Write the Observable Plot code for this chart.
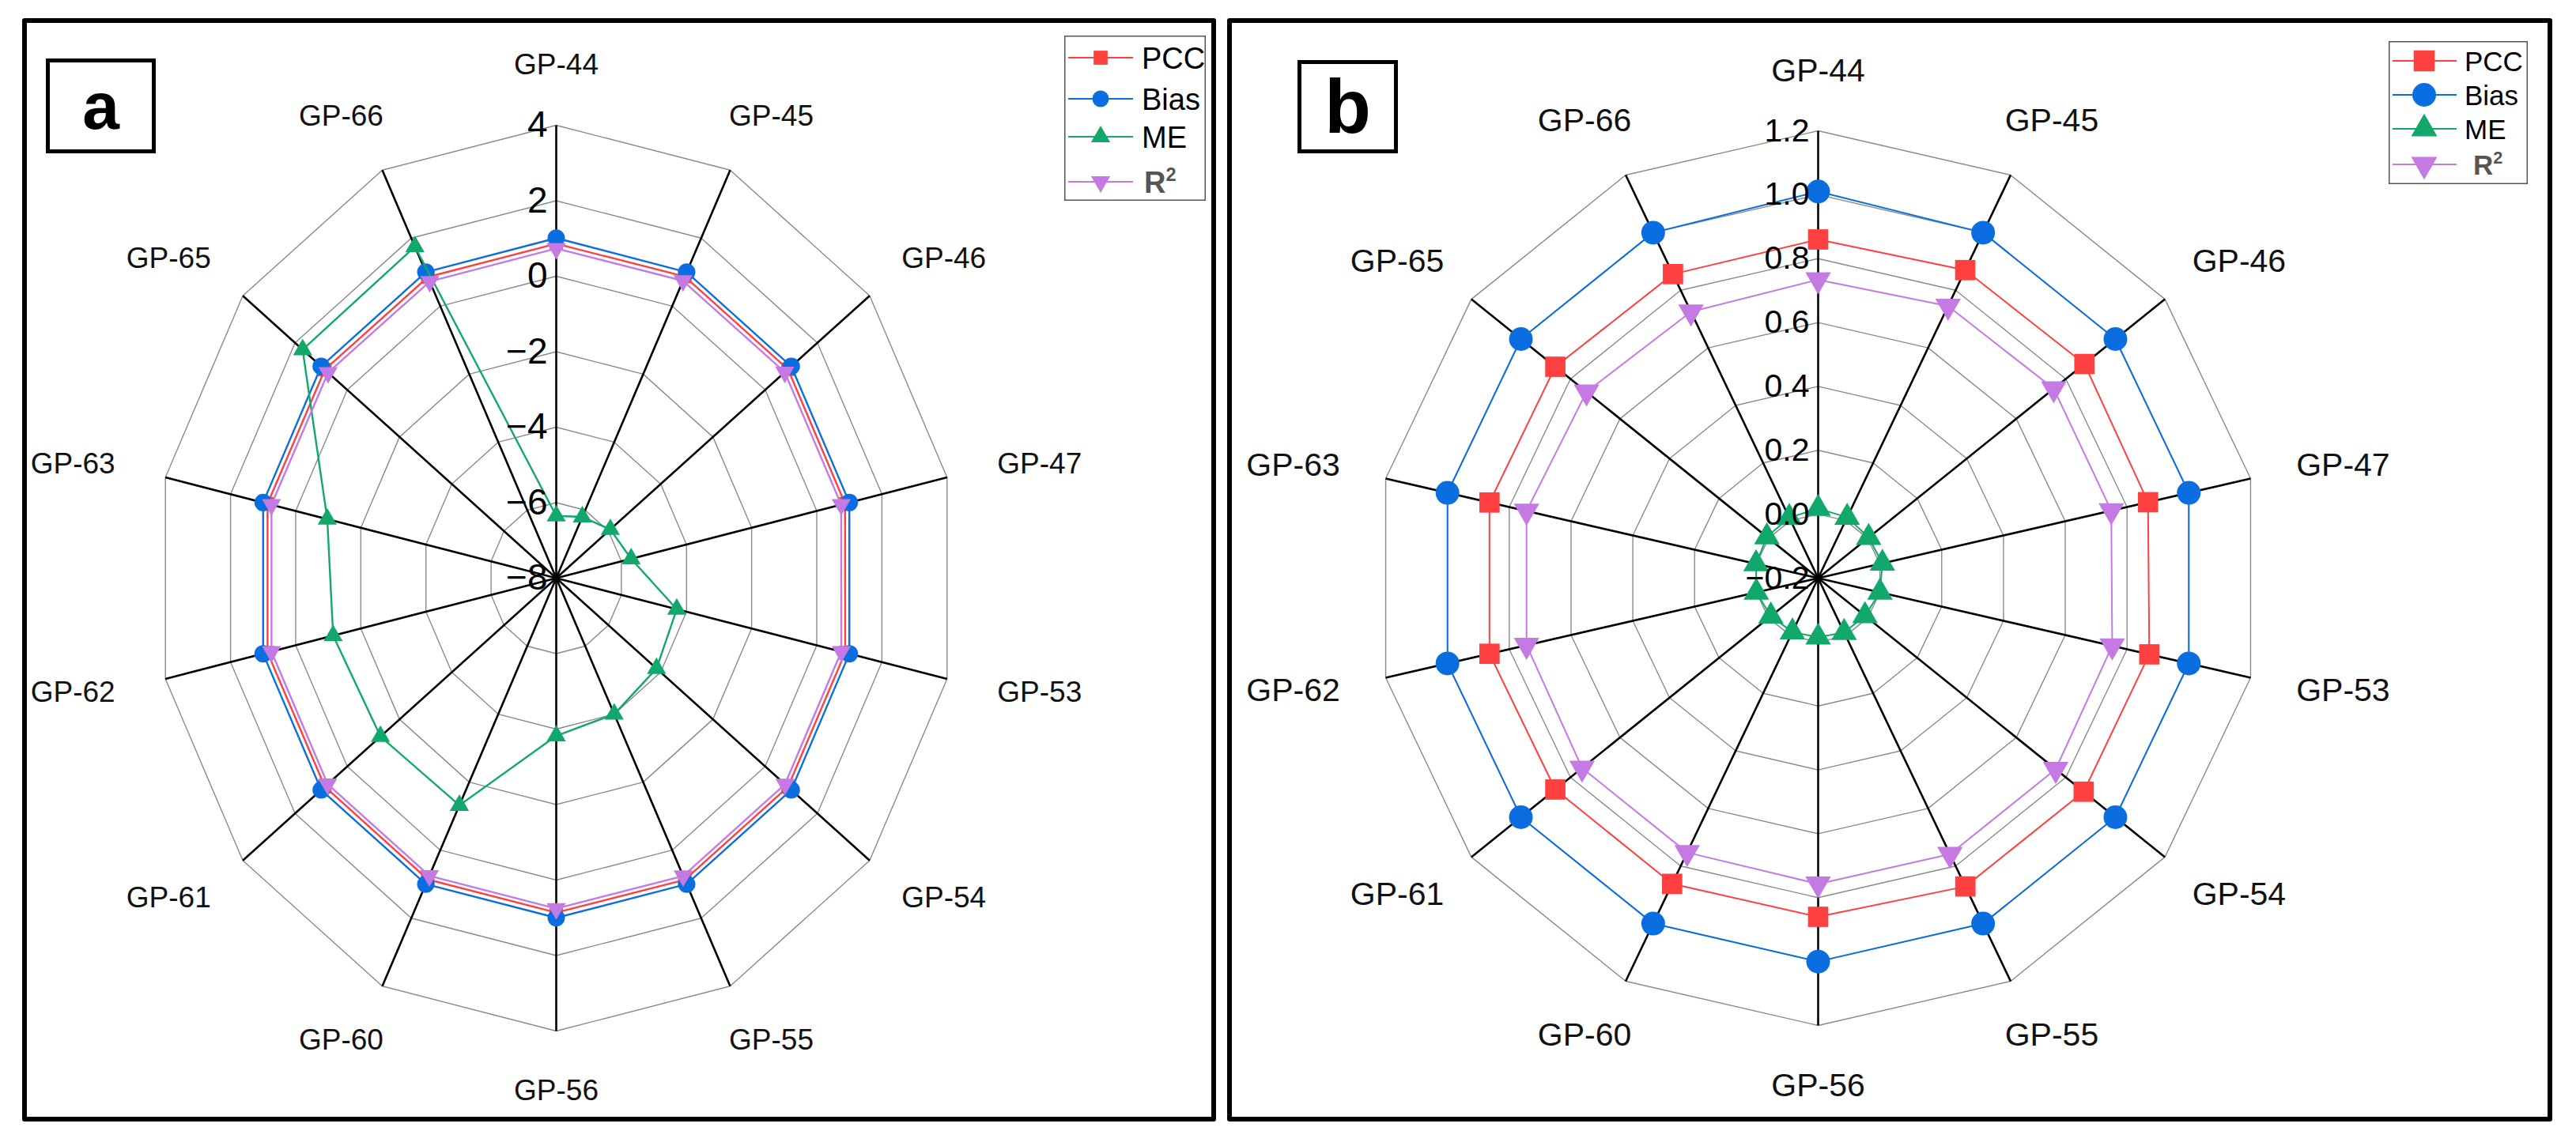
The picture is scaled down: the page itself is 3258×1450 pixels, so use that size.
<!DOCTYPE html>
<html><head><meta charset="utf-8">
<script src="https://cdn.jsdelivr.net/npm/d3@7"></script>
<script src="https://cdn.jsdelivr.net/npm/@observablehq/plot@0.6"></script>
<style>
body{margin:0;background:#fff;font-family:"Liberation Sans",Arial,sans-serif;}
#root{position:relative;width:3258px;height:1450px;overflow:hidden;background:#fff;}
.frame{position:absolute;border:6px solid #000;box-sizing:border-box;border-radius:3px;}
.tag{position:absolute;border:5px solid #000;box-sizing:border-box;font-weight:bold;display:flex;align-items:center;justify-content:center;line-height:1;color:#000;}
.plotwrap{position:absolute;left:0;top:0;}
.legend{position:absolute;}
</style></head><body><div id="root"></div>
<script>
// ---------- data ----------
const categories = ["GP-44","GP-45","GP-46","GP-47","GP-53","GP-54","GP-55","GP-56","GP-60","GP-61","GP-62","GP-63","GP-65","GP-66"];
const seriesNames = ["PCC","Bias","ME","R²"];
const pccValues  = [0.86,0.87,0.875,0.868,0.872,0.872,0.871,0.86,0.862,0.861,0.864,0.864,0.861,0.856];
const biasValues = [1.01,1.0,1.0,1.0,1.0,1.0,1.0,1.0,1.0,1.0,1.0,1.0,1.0,1.0];
const r2Values   = [0.734,0.745,0.751,0.749,0.752,0.759,0.759,0.757,0.753,0.753,0.744,0.744,0.735,0.725];
const meValuesA  = [-6.35,-6.2,-5.93,-5.7,-4.3,-4.16,-4.0,-3.82,-1.32,-1.27,-1.15,-0.97,1.71,1.75];
const meValuesB  = [0.018,0.011,0.004,0.008,0.0,-0.011,-0.011,-0.015,-0.013,-0.009,0.0,0.001,0.007,0.01];
const ticksA = [-8,-6,-4,-2,0,2,4];
const ticksB = [-0.2,0.0,0.2,0.4,0.6,0.8,1.0,1.2];

// ---------- styles ----------
const colors = {"PCC":"#ff4040","Bias":"#0a6ee0","ME":"#12a86c","R²":"#c47ae2"};
const triangleDown = {draw(ctx, size){const y=Math.sqrt(size/(3*Math.sqrt(3)));ctx.moveTo(0,2*y);ctx.lineTo(-Math.sqrt(3)*y,-y);ctx.lineTo(Math.sqrt(3)*y,-y);ctx.closePath();}};
const symbols = {"PCC":"square","Bias":"circle","ME":"triangle","R²":triangleDown};
const FONT = "'Liberation Sans', Arial, sans-serif";

const root = document.getElementById("root");

function panel(cfg){
  const frame = document.createElement("div");
  frame.className = "frame";
  Object.assign(frame.style,{left:cfg.fx+"px",top:cfg.fy+"px",width:cfg.fw+"px",height:cfg.fh+"px"});
  root.appendChild(frame);
  const W = cfg.fw-12, H = cfg.fh-12;
  const n = categories.length;
  const ang = i => 2*Math.PI*i/n;
  const norm = v => (v-cfg.min)/(cfg.max-cfg.min);
  const pt = (v,i) => ({x:norm(v)*Math.sin(ang(i)), y:norm(v)*Math.cos(ang(i))});
  const rings = cfg.ticks.filter(t=>t>cfg.min).flatMap(t=>categories.map((c,i)=>({t,...pt(t,i)})));
  const spokes = categories.map((c,i)=>({c,x2:Math.sin(ang(i)),y2:Math.cos(ang(i))}));
  const labels = categories.map((c,i)=>({c,x:Math.sin(ang(i))*(cfg.rx+120)/cfg.rx,y:Math.cos(ang(i))*(cfg.ry+76)/cfg.ry}));
  const seriesData = cfg.series.map(([name,vals])=>({name,pts:vals.map((v,i)=>({name,c:categories[i],v,...pt(v,i)}))}));
  const marks = [
    Plot.line(rings,{x:"x",y:"y",z:"t",curve:"linear-closed",stroke:"#8a8a8a",strokeWidth:1.4}),
    Plot.link(spokes,{x1:0,y1:0,x2:"x2",y2:"y2",stroke:"#000",strokeWidth:2.6}),
  ];
  for(const s of seriesData){
    marks.push(Plot.line(s.pts,{x:"x",y:"y",curve:"linear-closed",stroke:colors[s.name],strokeWidth:cfg.lw}));
    marks.push(Plot.dot(s.pts,{x:"x",y:"y",symbol:symbols[s.name],r:cfg.sizes[s.name],fill:colors[s.name],stroke:"none"}));
  }
  marks.push(Plot.text(cfg.ticks,{x:0,y:t=>norm(t),text:cfg.fmt,textAnchor:"end",dx:-11,fontSize:cfg.tickFont,fill:"#000",lineAnchor:"middle"}));
  marks.push(Plot.text(labels,{x:"x",y:"y",text:"c",fontSize:cfg.catFont,fill:"#111",textAnchor:"middle",lineAnchor:"middle"}));
  const svg = Plot.plot({
    width:W,height:H,
    x:{type:"linear",domain:[-1,1],range:[cfg.cx-cfg.rx,cfg.cx+cfg.rx],axis:null},
    y:{type:"linear",domain:[-1,1],range:[cfg.cy+cfg.ry,cfg.cy-cfg.ry],axis:null},
    style:{fontFamily:FONT,background:"transparent",overflow:"visible",maxWidth:"none"},
    marks
  });
  const wrap = document.createElement("div");
  wrap.className="plotwrap";
  wrap.style.width=W+"px";wrap.style.height=H+"px";
  wrap.appendChild(svg);
  frame.appendChild(wrap);

  // panel tag
  const tag = document.createElement("div");
  tag.className="tag";
  Object.assign(tag.style,{left:cfg.tag.x+"px",top:cfg.tag.y+"px",width:cfg.tag.w+"px",height:cfg.tag.h+"px",fontSize:cfg.tag.fs+"px",fontFamily:FONT});
  tag.textContent = cfg.tag.text;
  frame.appendChild(tag);

  // legend
  const L = cfg.legend;
  const ldiv = document.createElement("div");
  ldiv.className="legend";
  Object.assign(ldiv.style,{left:L.x+"px",top:L.y+"px"});
  const lsvg = d3.create("svg").attr("width",L.w).attr("height",L.h).style("font-family",FONT).style("display","block");
  lsvg.append("rect").attr("x",0.75).attr("y",0.75).attr("width",L.w-1.5).attr("height",L.h-1.5).attr("fill","#fff").attr("stroke","#555").attr("stroke-width",1.5);
  seriesNames.forEach((name,k)=>{
    const yy = L.rows[k];
    lsvg.append("line").attr("x1",L.lx1).attr("x2",L.lx2).attr("y1",yy).attr("y2",yy).attr("stroke",colors[name]).attr("stroke-width",2.2);
    const sym = symbols[name];
    const r = L.sizes[name];
    const gen = d3.symbol().type(typeof sym==="string"?{square:d3.symbolSquare,circle:d3.symbolCircle,triangle:d3.symbolTriangle}[sym]:sym).size(Math.PI*r*r);
    lsvg.append("path").attr("d",gen()).attr("transform",`translate(${L.mx},${yy})`).attr("fill",colors[name]);
    const isR2 = name==="R²";
    const t = lsvg.append("text").attr("x",isR2?L.tx+L.r2indent:L.tx).attr("y",yy).attr("dy","0.36em").attr("font-size",L.fs)
      .attr("fill",isR2?"#555":"#000").attr("font-weight",isR2?"bold":"normal");
    if(isR2){
      t.append("tspan").text("R");
      t.append("tspan").attr("font-size",L.fs*0.62).attr("dy",-L.fs*0.38).text("2");
    } else t.text(name);
  });
  ldiv.appendChild(lsvg.node());
  frame.appendChild(ldiv);
}

const fmtA = t => t<0 ? "\u2212"+Math.abs(t) : String(t);
const fmtB = t => t<0 ? "\u2212"+Math.abs(t).toFixed(1) : t.toFixed(1);

panel({
  fx:28,fy:23,fw:1510,fh:1396,
  min:-8,max:4,ticks:ticksA,fmt:fmtA,
  cx:669,cy:702,rx:507,ry:573,
  catFont:37,tickFont:46,lw:2.4,
  sizes:{"PCC":9.6,"Bias":11,"ME":9,"R²":9},
  series:[["PCC",pccValues],["Bias",biasValues],["ME",meValuesA],["R²",r2Values]],
  tag:{x:24,y:45,w:139,h:120,fs:84,text:"a"},
  legend:{x:1312,y:16,w:179,h:209,rows:[28,80,128,185],lx1:5,lx2:87,mx:46,tx:98,r2indent:3,fs:38,
    sizes:{"PCC":10,"Bias":10.5,"ME":9,"R²":9}}
});

panel({
  fx:1552,fy:23,fw:1676,fh:1396,
  min:-0.2,max:1.2,ticks:ticksB,fmt:fmtB,
  cx:741,cy:702,rx:561,ry:566,
  catFont:41,tickFont:41,lw:2,
  sizes:{"PCC":14.5,"Bias":15,"ME":12,"R²":12},
  series:[["PCC",pccValues],["Bias",biasValues],["ME",meValuesB],["R²",r2Values]],
  tag:{x:83,y:47,w:127,h:118,fs:96,text:"b"},
  legend:{x:1463,y:23,w:176,h:181,rows:[25,68,111,156],lx1:5,lx2:86,mx:45,tx:96,r2indent:11,fs:35,
    sizes:{"PCC":15,"Bias":15,"ME":12.3,"R²":12.3}}
});
</script>
</body></html>
